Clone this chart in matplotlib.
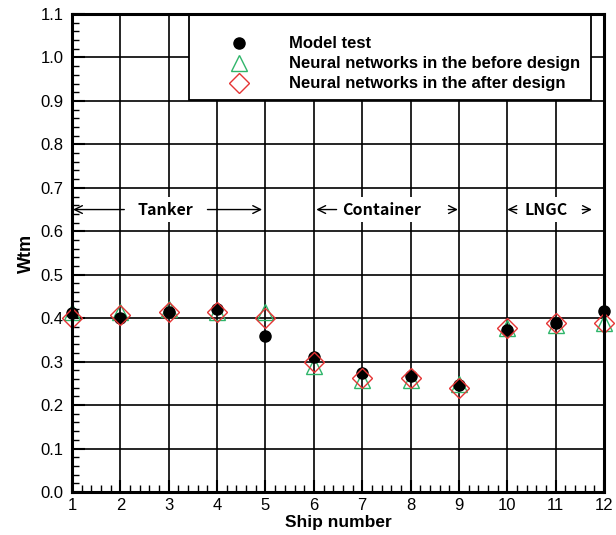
import matplotlib
matplotlib.use("Agg")
import matplotlib.pyplot as plt
from matplotlib.ticker import MultipleLocator
from matplotlib.patches import Rectangle

ships = [1, 2, 3, 4, 5, 6, 7, 8, 9, 10, 11, 12]
model_test = [0.412, 0.400, 0.415, 0.420, 0.360, 0.310, 0.274, 0.268, 0.246, 0.373, 0.388, 0.417]
nn_before = [0.415, 0.415, 0.420, 0.415, 0.415, 0.290, 0.258, 0.258, 0.249, 0.377, 0.385, 0.389]
nn_after = [0.400, 0.408, 0.415, 0.415, 0.400, 0.300, 0.262, 0.263, 0.240, 0.377, 0.390, 0.390]
x_ticks = list(range(1, 13))
y_ticks = [round(0.1 * i, 1) for i in range(12)]

plt.rcParams['font.family'] = ['Liberation Sans', 'DejaVu Sans']

fig = plt.figure(figsize=(6.16, 5.35), dpi=100)
ax = fig.add_axes([0.117, 0.0804, 0.8635, 0.8934])

ax.set_xlim(1, 12)
ax.set_ylim(0, 1.1)
ax.set_xticks(x_ticks)
ax.set_yticks(y_ticks)
ax.set_yticklabels([f"{v:.1f}" for v in y_ticks])
ax.xaxis.set_minor_locator(MultipleLocator(0.2))
ax.yaxis.set_minor_locator(MultipleLocator(0.02))
ax.tick_params(which='major', direction='in', length=9, width=1.5, labelsize=12,
               top=False, right=False)
ax.tick_params(axis='y', which='major', pad=6)
ax.tick_params(axis='x', which='major', pad=4)
ax.tick_params(which='minor', direction='in', length=5, width=1.0, top=False, right=False)
ax.grid(True, which='major', color='black', linewidth=1.2, zorder=0)
for s in ax.spines.values():
    s.set_linewidth(2.2)
    s.set_zorder(12)

ax.plot(ships, nn_before, linestyle='none', marker='^', markersize=11, markerfacecolor='none',
        markeredgecolor='#2fb56a', markeredgewidth=1.0, zorder=3, clip_on=False,
        label='Neural networks in the before design')
ax.plot(ships, model_test, linestyle='none', marker='o', markersize=8, color='black',
        zorder=4, clip_on=False, label='Model test')
ax.plot(ships, nn_after, linestyle='none', marker='D', markersize=10.5, markerfacecolor='none',
        markeredgecolor='#e53535', markeredgewidth=1.0, zorder=5, clip_on=False,
        label='Neural networks in the after design')

# legend box
box = Rectangle((0.22, 0.82), 0.756, 0.18, transform=ax.transAxes, facecolor='white',
                edgecolor='black', linewidth=1.3, zorder=9)
ax.add_patch(box)
handles, labels = ax.get_legend_handles_labels()
order = [1, 0, 2]
leg = ax.legend([handles[i] for i in order], [labels[i] for i in order],
                loc='upper left', bbox_to_anchor=(0.282, 0.953),
                frameon=False, prop={'weight': 'bold', 'size': 12},
                handlelength=2.0, handletextpad=2.0,
                borderpad=0, labelspacing=0.3, borderaxespad=0)
leg.set_zorder(10)

ax.set_xlabel('Ship number', fontsize=12.5, fontweight='bold', labelpad=2)
ax.set_ylabel('Wtm', fontsize=13, fontweight='bold', labelpad=4)

arrow_y = 0.65
ann_font = dict(fontsize=11.5, fontweight='bold', family=['Noto Sans CJK KR', 'DejaVu Sans'],
                ha='center', va='center')
arrowprops = dict(arrowstyle='->', color='black', lw=1.0, shrinkA=0, shrinkB=0,
                  mutation_scale=14)
groups = [
    ('Tanker', 2.92, (2.08, 1.02), (3.8, 4.93)),
    ('Container', 7.4, (6.47, 6.05), (8.78, 8.98)),
    ('LNGC', 10.81, (10.2, 10.0), (11.55, 11.75)),
]
for name, cx, left, right in groups:
    ax.text(cx, arrow_y, name, bbox=dict(facecolor='white', edgecolor='none', pad=3),
            zorder=6, **ann_font)
    ax.annotate('', xy=(left[1], arrow_y), xytext=(left[0], arrow_y),
                arrowprops=arrowprops, zorder=6)
    ax.annotate('', xy=(right[1], arrow_y), xytext=(right[0], arrow_y),
                arrowprops=arrowprops, zorder=6)

fig.savefig('out.png', dpi=100, facecolor='white')
